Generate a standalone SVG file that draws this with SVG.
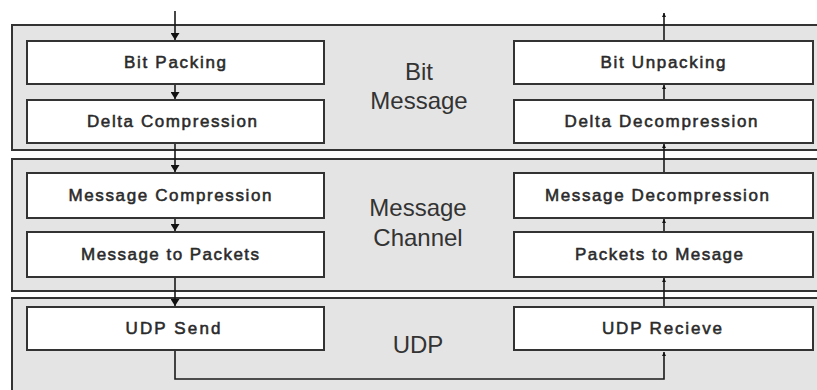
<svg xmlns="http://www.w3.org/2000/svg" width="817" height="390" viewBox="0 0 817 390">
  <style>
    .panel { fill: #e4e4e4; stroke: #333; stroke-width: 2; }
    .box { fill: #ffffff; stroke: #333; stroke-width: 2; }
    .step { font-family: "Liberation Sans", Arial, sans-serif; font-size: 17px; fill: #2a2a2a; stroke: #2a2a2a; stroke-width: 0.55; text-anchor: middle; }
    .layer { font-family: "Liberation Sans", Arial, sans-serif; font-size: 24px; fill: #333; text-anchor: middle; }
    .flow { fill: none; stroke: #1a1a1a; stroke-width: 1.6; }
    .down { marker-end: url(#headDown); }
    .up { marker-end: url(#headUp); }
  </style>
  <defs>
    <marker id="headDown" viewBox="0 0 7 9" refX="7" refY="4.5" markerWidth="7" markerHeight="9" markerUnits="userSpaceOnUse" orient="auto">
      <path d="M0,0 L7,4.5 L0,9 z" fill="#111"/>
    </marker>
    <marker id="headUp" viewBox="0 0 4 4" refX="4" refY="2" markerWidth="4" markerHeight="4" markerUnits="userSpaceOnUse" orient="auto">
      <path d="M0,0 L4,2 L0,4 z" fill="#111"/>
    </marker>
  </defs>

  <rect width="817" height="390" fill="#ffffff"/>

  <!-- layer panels -->
  <g id="layer-bit-message">
    <rect class="panel" x="12" y="25" width="830" height="125"/>
    <text class="layer" x="419" y="80">Bit</text>
    <text class="layer" x="419" y="109">Message</text>
  </g>
  <g id="layer-message-channel">
    <rect class="panel" x="12" y="159" width="830" height="132"/>
    <text class="layer" x="418" y="216">Message</text>
    <text class="layer" x="418" y="246">Channel</text>
  </g>
  <g id="layer-udp">
    <rect class="panel" x="12" y="298" width="830" height="110"/>
    <text class="layer" x="418" y="353">UDP</text>
  </g>

  <!-- connectors -->
  <g id="connectors">
    <line class="flow down" x1="175" y1="11" x2="175" y2="40"/>
    <line class="flow down" x1="175" y1="84" x2="175" y2="99"/>
    <line class="flow down" x1="175" y1="143" x2="175" y2="172"/>
    <line class="flow down" x1="175" y1="218" x2="175" y2="231"/>
    <line class="flow down" x1="175" y1="277" x2="175" y2="306"/>
    <polyline class="flow up" points="175,351 175,379 664,379 664,352"/>
    <line class="flow up" x1="664" y1="307" x2="664" y2="278"/>
    <line class="flow up" x1="664" y1="232" x2="664" y2="219"/>
    <line class="flow up" x1="664" y1="173" x2="664" y2="144"/>
    <line class="flow up" x1="664" y1="100" x2="664" y2="85"/>
    <line class="flow up" x1="664" y1="41" x2="664" y2="13"/>
  </g>

  <!-- sending side -->
  <g id="bit-packing">
    <rect class="box" x="27" y="41" width="297" height="43"/>
    <text class="step" x="175" y="68" textLength="102" lengthAdjust="spacing">Bit Packing</text>
  </g>
  <g id="delta-compression">
    <rect class="box" x="27" y="100" width="297" height="43"/>
    <text class="step" x="172" y="127" textLength="170" lengthAdjust="spacing">Delta Compression</text>
  </g>
  <g id="message-compression">
    <rect class="box" x="27" y="173" width="297" height="45"/>
    <text class="step" x="170" y="201" textLength="203" lengthAdjust="spacing">Message Compression</text>
  </g>
  <g id="message-to-packets">
    <rect class="box" x="27" y="232" width="297" height="45"/>
    <text class="step" x="170" y="260" textLength="178" lengthAdjust="spacing">Message to Packets</text>
  </g>
  <g id="udp-send">
    <rect class="box" x="27" y="307" width="297" height="43"/>
    <text class="step" x="173" y="334" textLength="95" lengthAdjust="spacing">UDP Send</text>
  </g>

  <!-- receiving side -->
  <g id="bit-unpacking">
    <rect class="box" x="514" y="41" width="299" height="43"/>
    <text class="step" x="663" y="68" textLength="125" lengthAdjust="spacing">Bit Unpacking</text>
  </g>
  <g id="delta-decompression">
    <rect class="box" x="514" y="100" width="299" height="43"/>
    <text class="step" x="661" y="127" textLength="193" lengthAdjust="spacing">Delta Decompression</text>
  </g>
  <g id="message-decompression">
    <rect class="box" x="514" y="173" width="299" height="45"/>
    <text class="step" x="657" y="201" textLength="224" lengthAdjust="spacing">Message Decompression</text>
  </g>
  <g id="packets-to-mesage">
    <rect class="box" x="514" y="232" width="299" height="45"/>
    <text class="step" x="659" y="260" textLength="168" lengthAdjust="spacing">Packets to Mesage</text>
  </g>
  <g id="udp-recieve">
    <rect class="box" x="514" y="307" width="299" height="43"/>
    <text class="step" x="662" y="334" textLength="120" lengthAdjust="spacing">UDP Recieve</text>
  </g>
</svg>
